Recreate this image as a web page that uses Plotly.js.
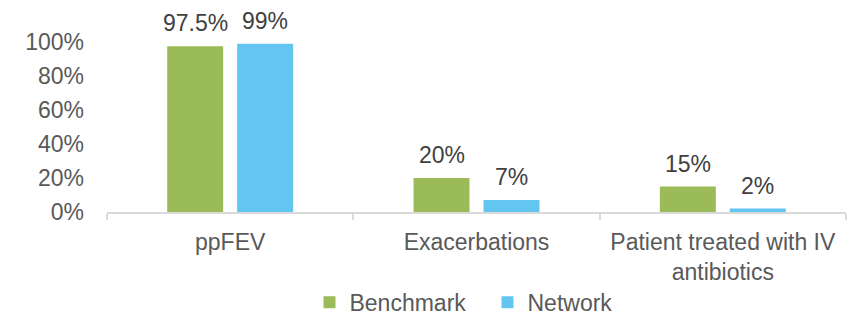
<!DOCTYPE html>
<html>
<head>
<meta charset="utf-8">
<script src="https://cdn.plot.ly/plotly-3.0.1.min.js"></script>
<style>html,body{margin:0;padding:0;background:#fff;}#chart{width:866px;height:318px;}</style>
</head>
<body>
<div id="chart"></div>
<script>
var categories = ["ppFEV", "Exacerbations", "Patient treated with IV<br>antibiotics"];
var benchmark = [97.5, 20, 15];
var network = [99, 7, 2];
var seriesNames = ["Benchmark", "Network"];
var yTicks = [0, 20, 40, 60, 80, 100];

var FONT = '"Liberation Sans", Arial, sans-serif';
var colors = ["#9BBB59", "#63C6F0"];

var traces = [benchmark, network].map(function (vals, i) {
  return {
    type: "bar",
    name: seriesNames[i],
    x: categories,
    y: vals,
    marker: {color: colors[i]},
    hoverinfo: "skip"
  };
});

var annotations = [];
[benchmark, network].forEach(function (vals, i) {
  vals.forEach(function (v, j) {
    annotations.push({
      x: categories[j], y: v, xref: "x", yref: "y",
      text: v + "%", showarrow: false,
      xanchor: "center", yanchor: "bottom",
      xshift: i === 0 ? -35 : 35, yshift: 8,
      font: {family: FONT, size: 23, color: "#404040"}
    });
  });
});

var layout = {
  width: 866, height: 318,
  margin: {l: 107, r: 20, t: 42, b: 105.5, autoexpand: false},
  paper_bgcolor: "#fff", plot_bgcolor: "#fff",
  font: {family: FONT, size: 23, color: "#595959"},
  barmode: "group",
  bargap: 0.432,
  bargroupgap: 0.2,
  showlegend: true,
  legend: {
    orientation: "h", x: 0.274, xanchor: "left", y: -0.531, yanchor: "middle",
    entrywidth: 133, entrywidthmode: "pixels",
    font: {family: FONT, size: 23, color: "#595959"}
  },
  xaxis: {
    type: "category", automargin: false,
    showline: true, linecolor: "#D9D9D9", linewidth: 2,
    ticks: "outside", tickson: "boundaries", ticklen: 6, tickcolor: "#D9D9D9", tickwidth: 2,
    showgrid: false, zeroline: false,
    ticklabelstandoff: 8,
    tickfont: {family: FONT, size: 23, color: "#595959"}
  },
  yaxis: {
    range: [0, 100], automargin: false,
    tickvals: yTicks, ticktext: yTicks.map(function (t) { return t + "%"; }),
    showline: false, showgrid: false, zeroline: false, ticks: "",
    ticklabelstandoff: 22,
    tickfont: {family: FONT, size: 23, color: "#595959"}
  },
  annotations: annotations
};

Plotly.newPlot("chart", traces, layout, {displayModeBar: false, staticPlot: true});
</script>
</body>
</html>
